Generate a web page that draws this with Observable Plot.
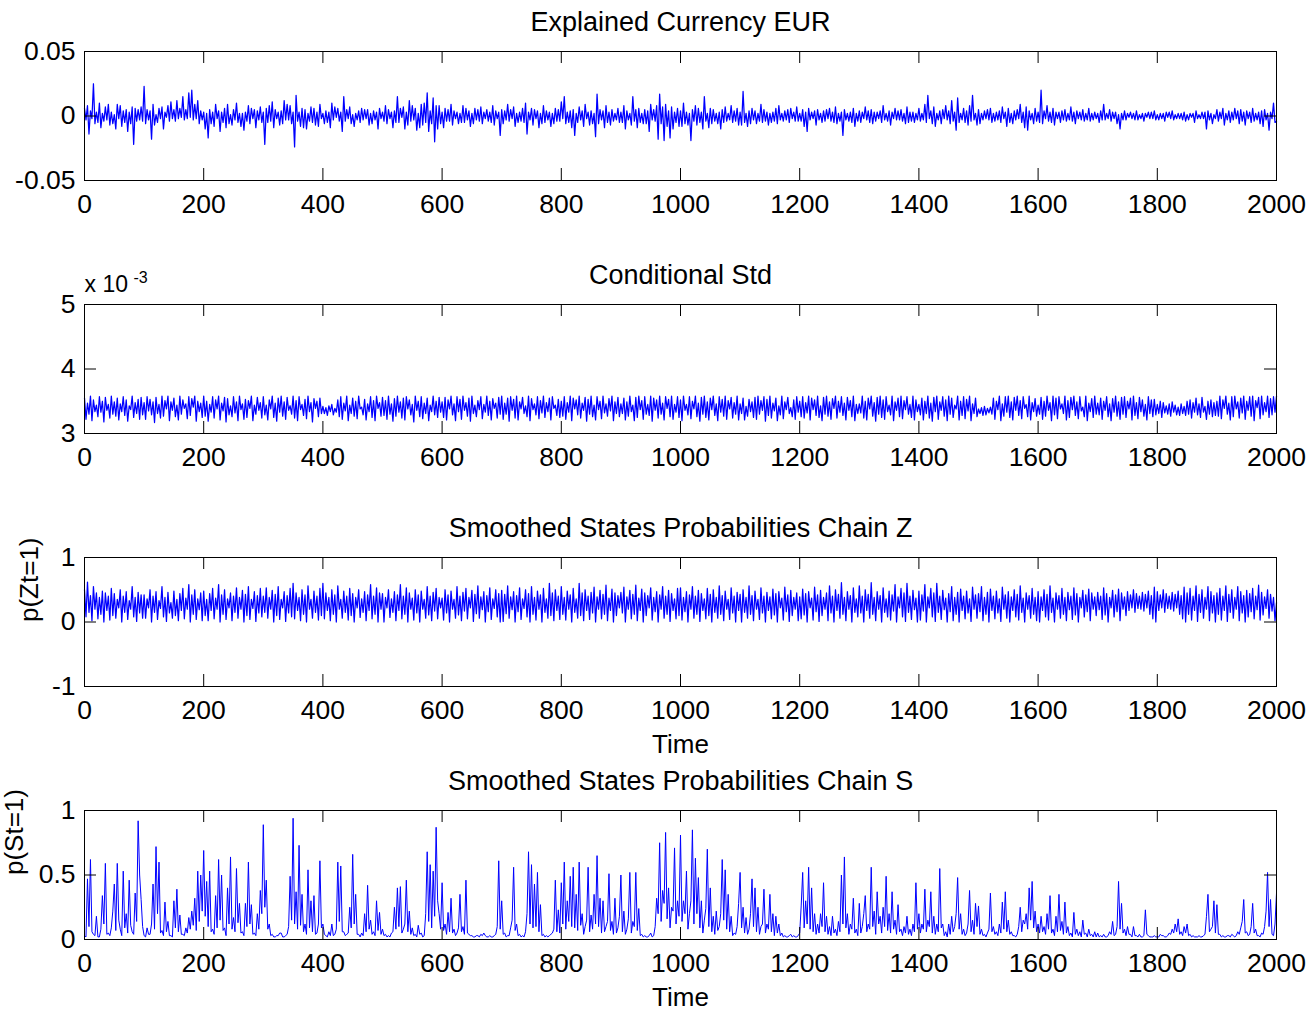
<!DOCTYPE html>
<html><head><meta charset="utf-8">
<script src="https://cdn.jsdelivr.net/npm/d3@7"></script>
<script src="https://cdn.jsdelivr.net/npm/@observablehq/plot@0.6"></script>
<style>
body{margin:0;background:#fff;}
#chart{width:1314px;height:1012px;}
#chart svg{display:block;}
</style></head><body><div id="chart"></div>
<script>
// samples are evenly spaced over Time 0..2000 (one value every 2.5 time units)
const T_MAX = 2000;
const xTicks = [0,200,400,600,800,1000,1200,1400,1600,1800,2000];

// Explained Currency EUR (units of 1e-3)
const eurReturns = [
6,-3,8,-14,4,-2,25,-6,3,-5,10,-9,2,-4,7,-3,9,-7,3,-6,1,-10,9,-2,8,-8,4,-5,5,-12,3,-6,7,-22,6,-4,5,-3,7,-4,
23,-6,5,-3,4,-18,9,-7,1,-5,6,-2,7,-10,3,-1,8,-4,11,-2,5,-4,12,-2,6,-1,15,-3,5,-2,18,-1,20,-3,9,-2,12,-6,4,-3,
3,-10,2,-17,5,-6,3,-8,9,-2,4,-12,3,-5,6,-9,9,-6,1,-7,5,-3,10,-5,2,-8,2,-11,3,-4,8,-6,6,-2,5,-9,4,-3,7,-5,
3,-22,6,-5,8,-4,11,-9,5,-2,3,-7,4,-6,12,-3,9,-3,8,-6,3,-24,16,-4,3,-8,6,-9,5,-10,2,-4,7,-5,6,-7,3,-8,9,-2,
2,-6,4,-5,3,-9,10,-3,7,-1,6,-4,3,-12,15,-4,5,-2,7,-6,1,-8,2,-3,4,-5,6,-3,5,-2,5,-7,2,-6,4,-3,3,-10,6,-2,
3,-4,8,-6,5,-2,3,-9,4,-5,15,-5,6,-1,7,-10,3,-7,12,-4,8,-3,6,-11,2,-9,9,-7,10,-5,18,-12,4,-6,14,-20,8,-10,8,-6,
3,-9,6,-4,5,-4,9,-7,4,-2,3,-6,2,-5,8,-5,6,-3,4,-8,2,-6,6,-3,5,-4,7,-6,3,-2,5,-4,3,-5,8,-7,4,-2,3,-15,
5,-6,4,-3,9,-4,5,-2,7,-8,2,-5,3,-4,6,-5,10,-14,3,-3,6,-7,5,-2,4,-9,2,-6,8,-5,4,-3,3,-8,2,-6,6,-4,5,-4,
11,-2,15,-6,3,-5,4,-9,5,-15,2,-5,7,-3,4,-8,9,-2,3,-7,4,-6,2,-16,17,-6,5,-3,4,-9,8,-5,3,-7,5,-4,2,-3,6,-5,
3,-5,8,-10,4,-3,2,-7,15,-4,5,-9,6,-5,2,-6,5,-6,4,-12,9,-3,5,-4,8,-18,17,-6,7,-19,9,-8,4,-17,7,-10,3,-5,6,-8,
4,-8,10,-6,3,-7,2,-19,5,-4,8,-7,6,-5,3,-10,15,-4,2,-9,6,-6,5,-4,2,-6,3,-10,5,-5,7,-4,2,-3,8,-5,4,-4,6,-7,
3,-7,19,-5,2,-8,4,-6,6,-3,4,-6,2,-4,9,-5,5,-4,3,-7,2,-5,3,-4,6,-6,8,-3,2,-4,4,-3,5,-5,6,-2,3,-4,7,-4,
2,-4,5,-8,3,-12,6,-3,3,-2,4,-7,5,-3,2,-5,4,-4,5,-2,6,-4,3,-5,7,-6,2,-4,3,-15,5,-3,2,-4,3,-5,6,-8,2,-4,
4,-5,3,-2,7,-3,4,-5,5,-6,3,-4,3,-2,4,-5,8,-3,2,-4,4,-7,3,-2,6,-3,4,-3,5,-4,2,-6,7,-5,3,-4,3,-5,2,-3,
6,-4,2,-3,9,-5,16,-2,4,-6,7,-8,2,-3,4,-6,5,-2,8,-3,4,-6,12,-4,3,-11,14,-5,2,-3,6,-5,4,-7,8,-4,16,-3,2,-7,
5,-6,2,-3,4,-2,5,-3,6,-5,2,-4,3,-3,4,-5,7,-2,3,-8,6,-5,2,-6,4,-3,5,-2,9,-5,3,-9,7,-11,4,-3,2,-6,6,-4,
3,-5,20,-6,4,-2,8,-4,3,-5,6,-7,3,-2,3,-5,4,-3,5,-4,2,-3,7,-4,3,-6,4,-2,3,-3,5,-4,2,-3,6,-4,2,-3,3,-2,
2,-5,4,-3,9,-3,2,-2,5,-4,3,-2,3,-6,1,-10,2,-3,4,-3,2,-1,3,-2,2,-3,4,-3,1,-2,2,-4,2,-1,3,-2,3,-2,4,-3,
1,-3,2,-2,2,-4,3,-1,3,-2,4,-3,1,-2,2,-2,2,-3,3,-4,1,-3,2,-1,2,-5,4,-2,1,-2,3,-2,3,-10,4,-3,2,-6,1,-2,
5,-4,3,-2,6,-7,2,-3,4,-5,3,-3,6,-2,4,-6,5,-4,3,-7,4,-2,3,-5,6,-4,2,-3,3,-6,4,-8,5,-3,2,-11,3,-2,10,-5,
-4];

// Conditional Std (units of 1e-5, i.e. 355 = 3.55 x 10^-3)
const condStd = [
355,322,347,330,358,320,352,334,344,326,357,333,350,318,356,336,345,324,358,330,349,327,355,321,346,334,357,328,352,319,343,337,358,325,348,331,353,322,356,329,
348,322,357,335,353,329,349,317,356,331,345,324,358,327,351,338,358,320,349,336,355,326,344,321,358,330,352,339,346,323,357,328,354,341,358,319,350,334,347,325,
358,327,350,319,345,333,357,324,352,338,358,321,347,335,356,318,354,329,343,326,357,332,349,320,358,337,346,322,353,325,351,339,358,320,344,330,356,336,348,324,
357,329,344,321,352,338,358,325,347,319,355,333,358,327,349,322,356,336,343,330,358,324,351,320,357,337,345,328,353,323,358,334,348,318,354,339,350,326,355,331,
342,331,340,328,343,334,345,329,339,333,352,326,357,322,347,335,358,320,344,331,355,327,350,323,358,338,341,329,353,321,346,334,357,325,351,320,358,339,348,327,
356,328,351,322,358,330,346,319,354,327,358,333,349,324,355,321,357,338,352,329,345,318,358,336,350,326,357,323,347,331,355,320,344,334,358,329,350,325,356,333,
349,325,356,321,352,338,358,329,346,320,357,334,353,322,358,336,348,327,355,319,358,331,344,326,351,337,357,323,345,333,358,328,350,321,354,339,347,324,356,330,
358,322,347,330,355,319,357,336,353,324,358,321,349,338,356,331,343,326,358,320,354,337,346,329,357,323,351,332,358,325,348,334,355,321,357,339,344,328,353,325,
350,327,357,322,348,333,358,320,355,338,352,329,358,324,347,336,356,319,353,330,358,326,344,321,357,337,350,323,358,332,346,327,354,335,358,320,349,331,356,326,
346,331,355,321,349,327,358,334,344,320,356,325,358,337,351,322,357,330,345,328,358,319,355,336,352,324,358,330,347,321,357,339,353,326,358,322,345,333,357,325,
352,320,358,336,345,329,357,323,350,338,358,326,347,319,356,330,358,325,349,321,355,337,358,328,346,320,357,333,353,327,358,322,351,338,356,324,348,330,358,321,
346,331,355,321,342,327,353,334,349,325,356,322,358,330,351,336,357,319,353,328,358,324,347,335,355,320,343,329,358,323,349,337,356,331,340,326,352,322,357,333,
350,326,357,324,348,332,358,321,355,337,352,328,358,325,343,320,356,330,358,327,349,322,354,339,358,324,350,333,357,328,347,321,356,336,351,326,358,320,345,331,
346,332,358,324,350,321,355,338,358,327,348,319,356,330,358,325,352,322,357,334,344,329,358,320,349,336,355,326,358,323,351,337,357,330,345,325,358,321,352,334,
345,329,355,321,350,331,358,324,347,319,356,334,358,322,349,336,357,327,352,320,358,330,355,325,344,338,358,321,350,328,357,323,353,335,358,320,346,331,355,326,
338,331,340,328,342,329,339,332,341,330,355,322,350,337,358,320,346,327,357,333,358,325,349,321,356,336,358,328,351,323,357,339,345,326,358,321,348,334,354,327,
344,330,356,322,350,327,358,336,348,320,358,329,355,323,357,338,346,331,358,321,351,325,356,337,358,328,349,323,357,335,341,326,358,320,347,334,354,325,358,330,
347,329,355,322,350,336,357,326,346,320,354,333,358,327,349,322,356,330,357,325,350,338,355,321,358,328,348,323,356,334,352,327,345,321,357,331,352,326,353,329,
345,331,350,325,348,332,343,330,346,327,349,333,344,329,341,328,346,331,342,328,350,330,352,324,348,333,355,329,346,325,356,333,342,322,350,330,352,326,348,328,
350,327,358,323,352,339,358,330,347,321,357,326,358,338,349,324,355,332,358,322,350,336,357,327,358,320,351,340,356,323,358,329,348,334,358,325,354,329,357,333,
358];

// Smoothed state probability chain Z, p(Zt=1) in percent
const probZ = [
50,8,62,15,41,2,55,20,45,5,38,12,48,0,45,18,40,3,52,10,44,6,35,22,50,0,40,15,47,4,33,20,55,8,38,1,46,14,42,6,
42,6,36,22,50,0,40,15,47,4,33,21,55,8,38,1,46,14,30,6,48,10,35,2,44,18,52,5,37,20,58,0,42,12,50,4,36,19,45,2,
48,10,35,2,44,18,52,5,37,20,58,0,42,12,50,4,36,22,45,2,40,15,53,6,38,20,49,0,43,10,55,4,35,21,47,1,41,14,52,8,
40,15,53,6,38,20,49,0,43,10,55,4,35,22,47,1,41,14,52,8,60,5,45,18,38,2,50,12,42,0,56,20,35,6,48,15,40,3,52,10,
60,5,45,18,38,2,50,12,42,0,56,20,35,6,48,15,40,3,52,10,44,0,38,22,50,7,36,15,47,2,42,18,58,5,40,12,53,0,45,20,
44,0,38,22,50,7,36,15,47,2,42,18,58,5,40,12,53,0,45,20,37,3,50,14,42,0,48,20,35,6,55,11,40,2,46,17,52,5,38,22,
37,3,50,14,42,0,48,20,35,6,55,11,40,2,46,17,52,5,38,22,49,1,43,13,56,6,39,19,47,0,41,16,53,4,36,21,50,8,44,0,
49,1,43,13,56,6,39,19,47,0,41,16,53,4,36,21,50,8,44,0,55,12,38,3,48,20,42,0,52,15,36,6,60,10,45,2,50,18,40,4,
55,12,38,3,48,20,42,0,52,15,36,6,60,10,45,2,50,18,40,4,46,14,54,0,39,20,49,5,43,12,57,2,37,18,51,0,45,10,41,22,
46,14,54,0,39,20,49,5,43,12,57,2,37,18,51,0,45,10,41,22,53,3,38,16,47,0,42,20,55,6,40,12,49,1,44,18,36,5,52,10,
53,3,38,16,47,0,42,20,55,6,40,12,49,1,44,18,36,5,52,10,43,0,50,15,38,6,56,12,41,2,48,20,35,4,53,14,40,0,46,18,
43,0,50,15,38,6,56,12,41,2,48,20,35,4,53,14,40,0,46,18,39,5,51,11,44,0,47,22,37,3,54,16,42,1,49,10,38,20,45,2,
39,5,51,11,44,0,47,22,37,3,54,16,42,1,49,10,38,20,45,2,56,14,40,0,50,18,43,6,61,12,38,2,47,20,41,0,53,15,36,8,
56,14,40,0,50,18,43,6,61,12,38,2,47,20,41,0,53,15,36,8,48,3,42,17,58,0,39,22,52,8,45,1,60,15,40,4,49,19,37,0,
48,3,42,17,58,0,39,22,52,8,45,1,60,15,40,4,49,19,37,0,44,16,55,2,38,12,46,0,51,18,40,5,48,14,36,1,54,20,42,6,
44,16,55,2,38,12,46,0,51,18,40,5,48,14,36,1,54,20,42,6,47,0,39,18,50,8,43,3,56,15,37,0,45,20,41,6,52,12,38,2,
47,0,39,18,50,8,43,3,56,15,37,0,45,20,41,6,52,12,38,2,46,19,40,4,53,11,44,0,38,22,49,8,42,16,51,2,45,20,39,10,
46,19,40,4,53,11,44,0,38,22,49,8,42,16,51,2,45,20,39,10,47,18,42,22,50,15,44,21,40,20,46,17,43,22,48,12,41,5,54,0,
47,18,42,22,50,15,44,21,40,20,46,17,43,22,48,12,41,5,54,0,45,12,52,3,40,18,56,1,43,15,50,6,38,20,55,2,47,14,41,0,
45,12,52,3,40,18,56,1,43,15,50,6,38,20,55,2,47,14,41,0,49,8,44,16,52,5,40,19,57,3,46,11,39,21,50,6,43,17,38,2,
30];

// Smoothed state probability chain S, p(St=1) in percent
const probS = [
3,2,47,10,62,6,4,3,18,2,2,8,34,12,59,4,5,3,9,22,43,7,59,15,8,3,53,9,20,5,46,11,6,4,36,14,92,50,31,10,
3,2,9,4,4,12,43,8,72,20,60,5,7,3,29,6,14,3,3,2,30,9,39,6,19,4,4,3,9,5,17,8,22,11,32,7,53,14,50,22,
69,18,45,10,53,6,8,4,34,9,62,15,50,7,9,3,40,12,64,8,17,6,55,13,28,5,6,3,28,10,60,12,27,4,5,3,20,8,38,20,
89,25,46,8,12,3,4,2,2,3,3,5,5,2,2,3,4,10,49,15,94,12,37,8,73,11,35,6,12,4,54,9,30,6,34,4,5,12,61,9,
12,4,3,2,6,3,12,3,4,8,60,14,57,6,6,3,4,5,25,9,66,12,35,4,4,2,5,3,20,6,42,8,15,4,6,3,30,7,21,4,
8,3,4,2,3,2,5,6,25,8,40,10,41,5,8,12,46,6,22,4,9,3,4,2,11,4,5,2,3,20,68,14,58,9,53,18,87,30,20,8,
44,7,12,4,21,6,32,5,8,3,5,9,35,6,10,4,46,5,4,3,3,2,2,3,3,2,4,3,5,3,2,2,3,2,2,3,4,10,61,8,
30,4,5,2,3,3,9,15,56,7,12,3,4,2,3,2,6,20,68,12,58,9,43,10,52,6,27,3,4,2,3,2,3,4,5,8,46,6,23,5,
44,12,60,8,30,14,49,10,56,9,35,7,60,11,20,4,10,15,56,6,19,8,35,12,65,10,32,5,30,6,10,14,51,7,14,4,32,5,9,18,
50,6,22,4,8,16,52,5,14,10,52,7,24,3,4,2,3,2,2,3,5,2,3,10,32,20,75,14,38,28,83,16,40,9,25,22,71,12,30,18,
81,14,30,20,53,8,20,30,85,12,63,20,48,9,30,5,15,24,70,10,40,6,18,4,22,7,10,20,62,15,54,8,35,6,18,3,5,4,10,28,
52,9,25,5,17,4,8,20,47,10,40,6,25,4,10,12,39,5,12,8,35,6,20,3,18,5,12,3,5,2,3,2,2,3,4,2,3,2,2,3,
5,26,52,9,30,12,56,8,40,6,20,4,12,5,20,10,44,6,18,4,10,3,18,5,8,3,14,6,50,12,64,9,20,4,12,8,32,5,8,3,
28,5,10,20,34,6,12,8,56,10,22,4,37,12,18,5,25,10,49,7,20,5,37,8,15,4,27,6,8,3,10,5,18,4,8,3,12,6,44,8,
20,5,12,8,39,6,15,10,37,5,18,4,12,6,55,9,12,3,6,2,12,4,18,6,10,20,48,8,20,4,8,3,5,12,38,6,15,4,28,10,
26,4,8,3,4,2,5,8,36,6,10,4,6,3,12,5,29,8,37,6,15,4,6,3,3,2,4,10,25,6,15,12,20,8,40,15,45,9,22,6,
12,5,18,6,10,4,20,8,34,5,8,3,18,6,35,7,14,4,29,5,10,3,5,2,21,4,8,3,6,2,15,4,5,2,8,3,4,2,6,2,
5,2,3,2,4,2,2,3,6,4,14,3,4,10,45,8,28,5,8,3,10,4,4,2,10,3,3,2,4,2,2,3,23,4,3,2,2,2,3,2,
2,2,4,3,3,2,2,3,5,4,8,5,12,6,16,4,6,3,10,5,12,3,4,2,3,2,2,2,3,2,2,3,4,18,35,6,8,10,30,5,
27,4,4,2,3,2,2,3,3,2,4,3,2,3,6,4,9,14,31,5,6,3,4,10,28,5,8,3,3,2,5,4,10,22,52,10,31,4,3,12,
36];

const titles = ["Explained Currency EUR", "Conditional Std",
  "Smoothed States Probabilities Chain Z", "Smoothed States Probabilities Chain S"];
const yLabels = [null, null, "p(Zt=1)", "p(St=1)"];
const yTickSets = [[-0.05, 0, 0.05], [3, 4, 5], [-1, 0, 1], [0, 0.5, 1]];
const yDomains = [[-0.05, 0.05], [3, 5], [-1, 1], [0, 1]];
const valueScales = [1e-3, 1e-2, 1e-2, 1e-2];
const seriesList = [eurReturns, condStd, probZ, probS];
const lineWidths = [1.25, 1.25, 1.25, 1];

const FONT = "'Liberation Sans', Arial, Helvetica, sans-serif";
const W = 1314, H = 253, mL = 84, mR = 38, mT = 51, mB = 73;
const iw = W - mL - mR, ih = H - mT - mB;
const TICK = 12;

function panel(k) {
  const vals = seriesList[k];
  const step = T_MAX / (vals.length - 1);
  const data = vals.map((v, i) => ({t: i * step, v: v * valueScales[k]}));
  const yTicks = yTickSets[k];
  const marks = [
    Plot.line(data, {x: "t", y: "v", stroke: "#0000ff", strokeWidth: lineWidths[k]}),
    Plot.tickX(xTicks, {x: d => d, stroke: "#000", insetTop: ih - TICK}),
    Plot.tickX(xTicks, {x: d => d, stroke: "#000", insetBottom: ih - TICK}),
    Plot.tickY(yTicks, {y: d => d, stroke: "#000", insetRight: iw - TICK}),
    Plot.tickY(yTicks, {y: d => d, stroke: "#000", insetLeft: iw - TICK}),
    Plot.frame({stroke: "#000"}),
    Plot.axisX({ticks: xTicks, tickSize: 0, tickPadding: 14, label: null, tickFormat: d => String(d), fill: "#000", fontSize: 26.5}),
    Plot.axisY({ticks: yTicks, tickSize: 0, tickPadding: 9, label: null, tickFormat: d => String(d), fill: "#000", fontSize: 26.5}),
    Plot.text([titles[k]], {frameAnchor: "top", dy: -21, lineAnchor: "bottom", text: d => d, fill: "#000", fontSize: 27})
  ];
  if (k === 1) {
    marks.push(Plot.text(["x 10"], {frameAnchor: "top-left", textAnchor: "start", lineAnchor: "bottom", dy: -13, fontSize: 23, text: d => d, fill: "#000"}));
    marks.push(Plot.text(["-3"], {frameAnchor: "top-left", textAnchor: "start", lineAnchor: "bottom", dx: 49, dy: -22, fontSize: 16, text: d => d, fill: "#000"}));
  }
  if (yLabels[k]) {
    marks.push(Plot.text([yLabels[k]], {frameAnchor: "left", rotate: -90, lineAnchor: "middle", dx: k === 2 ? -55 : -70, text: d => d, fill: "#000", fontSize: 26}));
  }
  if (k >= 2) {
    marks.push(Plot.text(["Time"], {frameAnchor: "bottom", lineAnchor: "bottom", dy: 66, text: d => d, fill: "#000", fontSize: 26}));
  }
  return Plot.plot({
    width: W, height: H,
    marginLeft: mL, marginRight: mR, marginTop: mT, marginBottom: mB,
    x: {domain: [0, T_MAX]},
    y: {domain: yDomains[k]},
    style: {fontFamily: FONT, fontSize: "26px", color: "#000", background: "#fff", overflow: "visible"},
    marks
  });
}

const root = document.getElementById("chart");
for (let k = 0; k < 4; k++) root.appendChild(panel(k));
</script>
</body></html>
